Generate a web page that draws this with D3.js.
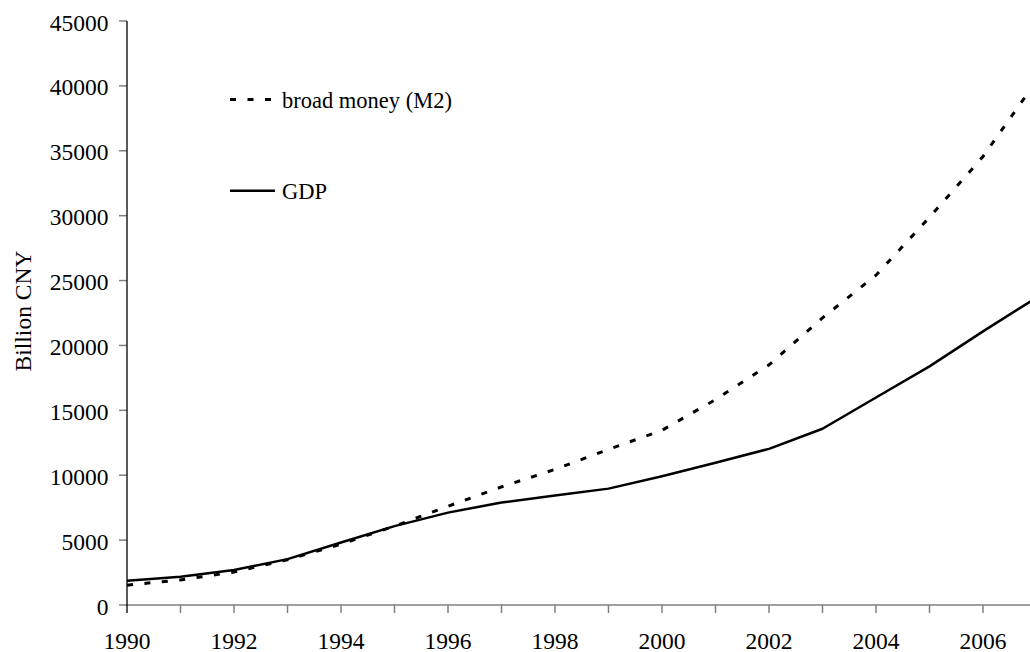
<!DOCTYPE html>
<html>
<head>
<meta charset="utf-8">
<script src="https://cdn.jsdelivr.net/npm/d3@7"></script>
<style>
  html, body { margin: 0; padding: 0; background: #fff; }
  svg { display: block; }
</style>
</head>
<body>
<svg id="chart" width="1030" height="652"></svg>
<script>
// ---- data (billion CNY) ----
const years = [1990,1991,1992,1993,1994,1995,1996,1997,1998,1999,2000,2001,2002,2003,2004,2005,2006,2007];
const gdp   = [1868,2178,2692,3533,4820,6079,7118,7897,8440,8968,9922,10966,12033,13582,15988,18387,21087,23680];
const m2    = [1529,1935,2540,3488,4692,6075,7610,9100,10450,11990,13461,15830,18501,22122,25411,29876,34560,40380];
const xTickLabels = [1990,1992,1994,1996,1998,2000,2002,2004,2006];
const yTickLabels = [0,5000,10000,15000,20000,25000,30000,35000,40000,45000];
const seriesNames = ["broad money (M2)", "GDP"];
const yTitle = "Billion CNY";

const FONT = '"Liberation Serif", "Times New Roman", Tinos, serif';
const FS = 23.5;
const FS_LEG = 22.5;

const svg = d3.select("#chart");
const x = d3.scaleLinear().domain([1990, 2007]).range([127, 1036.5]);
const y = d3.scaleLinear().domain([0, 45000]).range([605, 21]);

// x axis line (gray) and minor ticks
svg.append("line")
  .attr("x1", 119).attr("x2", 1040)
  .attr("y1", y(0)).attr("y2", y(0))
  .attr("stroke", "#808080").attr("stroke-width", 1.5);

svg.selectAll(".xt").data(years.slice(1)).enter().append("line")
  .attr("x1", d => x(d)).attr("x2", d => x(d))
  .attr("y1", y(0)).attr("y2", y(0) + 8)
  .attr("stroke", "#808080").attr("stroke-width", 1.5);

// y ticks (gray)
svg.selectAll(".yt").data(yTickLabels.slice(1)).enter().append("line")
  .attr("x1", 119).attr("x2", 127)
  .attr("y1", d => y(d)).attr("y2", d => y(d))
  .attr("stroke", "#808080").attr("stroke-width", 1.5);

// y axis line (black), extends to the first x tick
svg.append("line")
  .attr("x1", 127).attr("x2", 127)
  .attr("y1", y(45000)).attr("y2", y(0) + 8)
  .attr("stroke", "#000").attr("stroke-width", 1.3);

// tick labels
svg.selectAll(".xl").data(xTickLabels).enter().append("text")
  .attr("x", d => x(d)).attr("y", 648.5)
  .attr("text-anchor", "middle")
  .style("font-family", FONT).style("font-size", FS + "px")
  .text(d => d);

svg.selectAll(".yl").data(yTickLabels).enter().append("text")
  .attr("x", 108.5).attr("y", d => y(d) + 9.5)
  .attr("text-anchor", "end")
  .style("font-family", FONT).style("font-size", FS + "px")
  .text(d => d);

// y title
svg.append("text")
  .attr("transform", `translate(31,311) rotate(-90)`)
  .attr("text-anchor", "middle")
  .style("font-family", FONT).style("font-size", FS + "px")
  .text(yTitle);

// lines
const line = d3.line().x((d, i) => x(years[i])).y(d => y(d));

svg.append("path").datum(m2)
  .attr("d", line)
  .attr("fill", "none").attr("stroke", "#000")
  .attr("stroke-width", 3).attr("stroke-dasharray", "6 11.5");

svg.append("path").datum(gdp)
  .attr("d", line)
  .attr("fill", "none").attr("stroke", "#000")
  .attr("stroke-width", 2.5).attr("stroke-linejoin", "round");

// legend
const legend = [
  { name: seriesNames[0], yy: 99.5, dash: "6 11.5", w: 3, x2: 272 },
  { name: seriesNames[1], yy: 190.7, dash: null, w: 2.5, x2: 275 }
];
legend.forEach(l => {
  svg.append("line")
    .attr("x1", 230).attr("x2", l.x2)
    .attr("y1", l.yy).attr("y2", l.yy)
    .attr("stroke", "#000").attr("stroke-width", l.w)
    .attr("stroke-dasharray", l.dash);
  svg.append("text")
    .attr("x", 282).attr("y", l.yy + 8)
    .style("font-family", FONT).style("font-size", FS_LEG + "px")
    .text(l.name);
});
</script>
</body>
</html>
